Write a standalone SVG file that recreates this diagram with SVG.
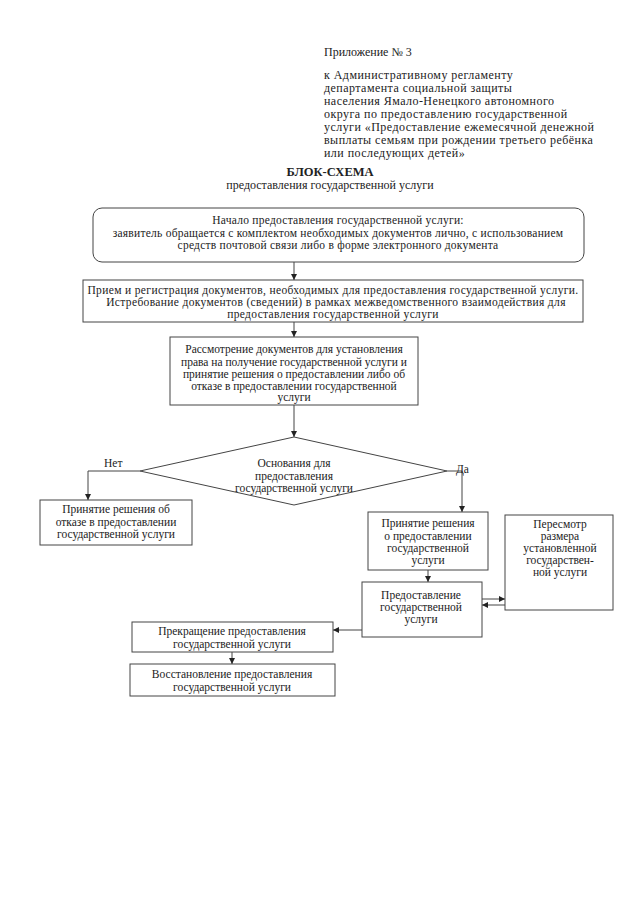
<svg xmlns="http://www.w3.org/2000/svg" width="640" height="905" viewBox="0 0 640 905">
<style>
text{font-family:"Liberation Serif","Times New Roman",serif;font-size:11.5px;fill:#222}
.c{text-anchor:middle}
.b{fill:#fff;stroke:#444;stroke-width:1}
.l{fill:none;stroke:#444;stroke-width:1}
.h{font-size:12px}
.p{font-size:12px;letter-spacing:0.45px}
.t{font-size:12.5px;font-weight:bold}
.w1{letter-spacing:0.25px}
.w2{letter-spacing:0.35px}
</style>
<defs>
<marker id="a" viewBox="0 0 8 8" refX="8" refY="4" markerWidth="6" markerHeight="6" orient="auto" markerUnits="userSpaceOnUse">
<path d="M0,0 L8,4 L0,8 z" fill="#222"/>
</marker>
</defs>
<rect width="640" height="905" fill="#fff"/>
<g id="header">
<text class="h" x="324" y="56">Приложение № 3</text>
<text class="p" x="324" y="79">к Административному регламенту</text>
<text class="p" x="324" y="92">департамента социальной защиты</text>
<text class="p" x="324" y="105">населения Ямало-Ненецкого автономного</text>
<text class="p" x="324" y="118">округа по предоставлению государственной</text>
<text class="p" x="324" y="131">услуги «Предоставление ежемесячной денежной</text>
<text class="p" x="324" y="144">выплаты семьям при рождении третьего ребёнка</text>
<text class="p" x="324" y="157">или последующих детей»</text>
<text class="t c" x="330" y="176">БЛОК-СХЕМА</text>
<text class="h c" x="330" y="189">предоставления государственной услуги</text>
</g>
<g id="connectors">
<line class="l" x1="294" y1="262" x2="294" y2="280" marker-end="url(#a)"/>
<line class="l" x1="294" y1="322" x2="294" y2="337" marker-end="url(#a)"/>
<line class="l" x1="294" y1="405" x2="294" y2="437" marker-end="url(#a)"/>
<polyline class="l" points="140,471 88,471 88,500" marker-end="url(#a)"/>
<polyline class="l" points="447,471 462,471 462,512" marker-end="url(#a)"/>
<line class="l" x1="428" y1="570" x2="428" y2="582" marker-end="url(#a)"/>
<line class="l" x1="482" y1="599" x2="505" y2="599" marker-end="url(#a)"/>
<line class="l" x1="505" y1="605" x2="482" y2="605" marker-end="url(#a)"/>
<line class="l" x1="362" y1="630" x2="333" y2="630" marker-end="url(#a)"/>
<line class="l" x1="232" y1="652" x2="232" y2="664" marker-end="url(#a)"/>
</g>
<g id="n1">
<rect class="b" x="93" y="208" width="491" height="54" rx="9"/>
<text class="c w1" x="338" y="224">Начало предоставления государственной услуги:</text>
<text class="c w1" x="338" y="237">заявитель обращается с комплектом необходимых документов лично, с использованием</text>
<text class="c w1" x="338" y="249">средств почтовой связи либо в форме электронного документа</text>
</g>
<g id="n2">
<rect class="b" x="83" y="280" width="500" height="42"/>
<text class="c w2" x="333" y="294">Прием и регистрация документов, необходимых для предоставления государственной услуги.</text>
<text class="c w2" x="336" y="306">Истребование документов (сведений) в рамках межведомственного взаимодействия для</text>
<text class="c w2" x="333" y="318">предоставления государственной услуги</text>
</g>
<g id="n3">
<rect class="b" x="170" y="337" width="248" height="68"/>
<text class="c" x="294" y="353">Рассмотрение документов для установления</text>
<text class="c" x="294" y="366">права на получение государственной услуги и</text>
<text class="c" x="294" y="378">принятие решения о предоставлении либо об</text>
<text class="c" x="294" y="390">отказе в предоставлении государственной</text>
<text class="c" x="294" y="401">услуги</text>
</g>
<g id="n4">
<polygon class="b" points="294,437 447,471 294,505 140,471"/>
<text class="c" x="294" y="467">Основания для</text>
<text class="c" x="294" y="480">предоставления</text>
<text class="c" x="294" y="492">государственной услуги</text>
</g>
<g id="labels">
<text x="104" y="467">Нет</text>
<text x="456" y="473">Да</text>
</g>
<g id="n5">
<rect class="b" x="40" y="500" width="152" height="45"/>
<text class="c" x="116" y="513">Принятие решения об</text>
<text class="c" x="116" y="526">отказе в предоставлении</text>
<text class="c" x="116" y="538">государственной услуги</text>
</g>
<g id="n6">
<rect class="b" x="368" y="512" width="120" height="58"/>
<text class="c" x="428" y="527">Принятие решения</text>
<text class="c" x="428" y="540">о предоставлении</text>
<text class="c" x="428" y="552">государственной</text>
<text class="c" x="428" y="564">услуги</text>
</g>
<g id="n7">
<rect class="b" x="505" y="515" width="108" height="95"/>
<text class="c" x="560" y="528">Пересмотр</text>
<text class="c" x="560" y="540">размера</text>
<text class="c" x="560" y="552">установленной</text>
<text class="c" x="560" y="564">государствен-</text>
<text class="c" x="560" y="576">ной услуги</text>
</g>
<g id="n8">
<rect class="b" x="362" y="582" width="120" height="55"/>
<text class="c" x="421" y="599">Предоставление</text>
<text class="c" x="421" y="611">государственной</text>
<text class="c" x="421" y="623">услуги</text>
</g>
<g id="n9">
<rect class="b" x="132" y="622" width="201" height="30"/>
<text class="c" x="232" y="635">Прекращение предоставления</text>
<text class="c" x="232" y="648">государственной услуги</text>
</g>
<g id="n10">
<rect class="b" x="130" y="664" width="205" height="32"/>
<text class="c" x="232" y="678">Восстановление  предоставления</text>
<text class="c" x="232" y="691">государственной услуги</text>
</g>
</svg>
